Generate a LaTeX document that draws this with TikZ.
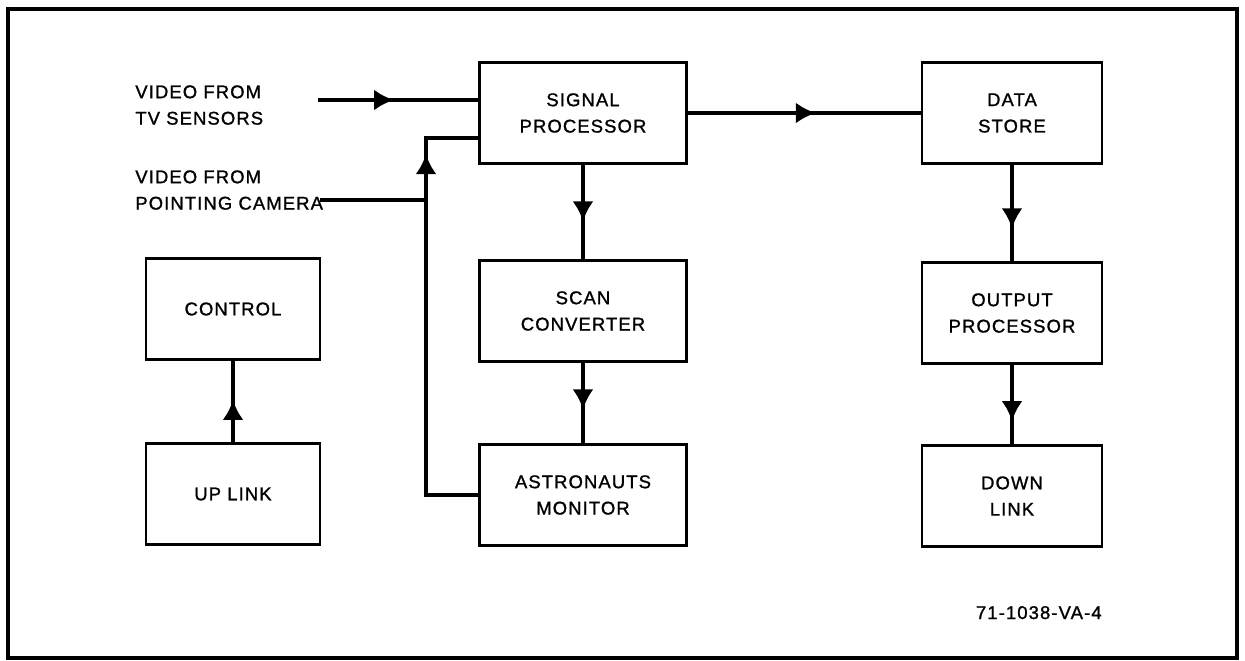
\documentclass[tikz,border=0pt]{standalone}
\usepackage{fontspec}
\setmainfont{Liberation Sans}[LetterSpace=6,FakeBold=1.2]
\usepackage{tikz}
\usetikzlibrary{positioning,arrows.meta,decorations.markings}

\begin{document}
\begin{tikzpicture}[x=0.02cm, y=-0.02cm, every node/.style={font=\fontsize{10.5}{15}\selectfont}]
  \tikzset{
    block/.style={draw, line width=1.4pt, align=center, inner sep=0pt, minimum height=2.02cm},
    midcol/.style={block, minimum width=4.14cm},
    rightcol/.style={block, minimum width=3.6cm},
    leftcol/.style={block, minimum width=3.48cm},
    flow/.style={line width=2.3pt},
    midarrow/.style={postaction={decorate}, decoration={markings,
      mark=at position #1 with {\arrow{Latex[length=0.4cm,width=0.42cm]}}}},
    lbl/.style={align=left, inner sep=0pt}
  }
  \useasboundingbox (0,0) rectangle (1245,660);
  \draw[line width=2pt] (8,9) rectangle (1237,658);

  % middle column
  \node[midcol] (sp) at (583,113) {SIGNAL\\PROCESSOR};
  \node[midcol] (sc) at (583,311) {SCAN\\CONVERTER};
  \node[midcol] (am) at (583,495) {ASTRONAUTS\\MONITOR};

  % right column
  \node[rightcol] (ds) at (1012,113) {DATA\\STORE};
  \node[rightcol] (op) at (1012,313) {OUTPUT\\PROCESSOR};
  \node[rightcol] (dl) at (1012,496) {DOWN\\LINK};

  % left column
  \node[leftcol] (ctl) at (233,309) {CONTROL};
  \node[leftcol] (ul) at (233,494) {UP LINK};

  % inputs
  \node[lbl, anchor=north west] (tvlbl) at (135,85) {VIDEO FROM\\TV SENSORS};
  \node[lbl, anchor=north west] (camlbl) at (135,170) {VIDEO FROM\\POINTING CAMERA};
  \coordinate (tvin) at (318,100);
  \coordinate (camin) at (320,200);
  \coordinate (fb) at (426,138);

  \draw[flow, midarrow=0.475] (tvin) -- (tvin -| sp.west);
  \draw[flow, midarrow=0.852] (am.west) -| (fb) -- (fb -| sp.west);
  \draw[flow] (camin) -- (camin -| fb);

  \draw[flow, midarrow=0.55] (sp) -- (ds);
  \draw[flow, midarrow=0.6] (sp) -- (sc);
  \draw[flow, midarrow=0.58] (sc) -- (am);
  \draw[flow, midarrow=0.66] (ds) -- (op);
  \draw[flow, midarrow=0.71] (op) -- (dl);
  \draw[flow, midarrow=0.52] (ul) -- (ctl);

  \node[anchor=base east, inner sep=0pt] (figno) at (1102,619) {71-1038-VA-4};
\end{tikzpicture}
\end{document}
